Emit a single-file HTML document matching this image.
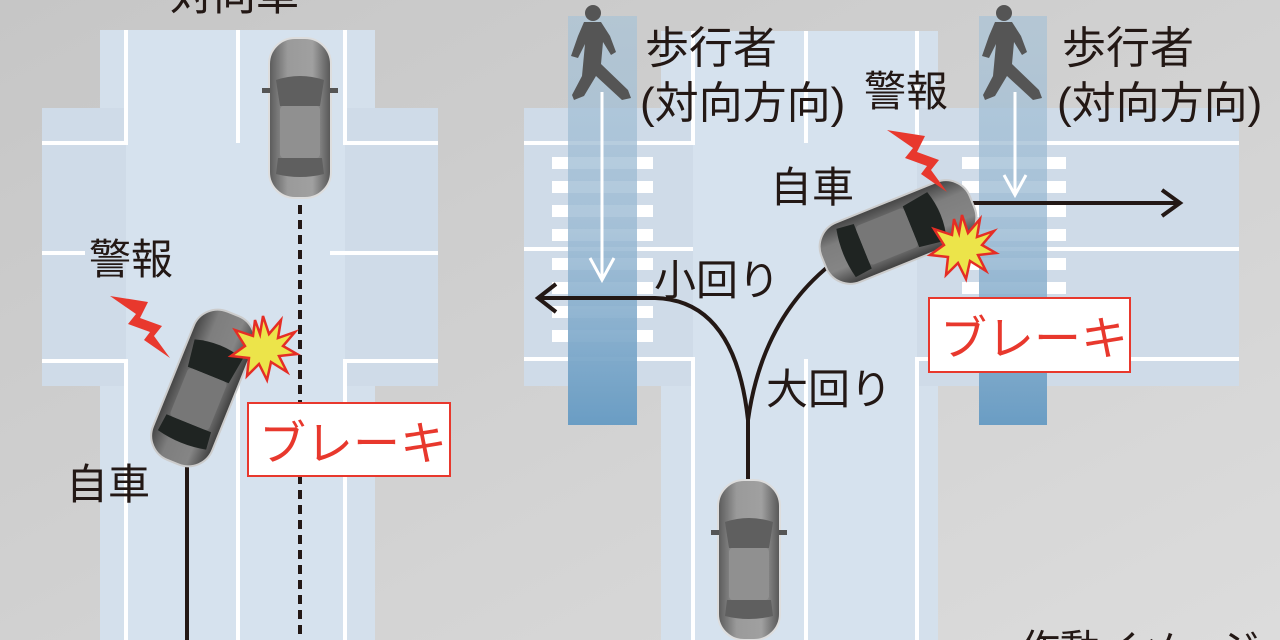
<!DOCTYPE html>
<html><head><meta charset="utf-8"><style>
html,body{margin:0;padding:0;width:1280px;height:640px;overflow:hidden;background:#c9c9c9}
svg{display:block}
text{font-family:"Liberation Sans","Noto Sans CJK JP",sans-serif;fill:#231815}
</style></head><body>
<svg width="1280" height="640" viewBox="0 0 1280 640" xmlns="http://www.w3.org/2000/svg" style="overflow:hidden">
<defs>
<linearGradient id="bg" x1="0" y1="0" x2="1" y2="1"><stop offset="0" stop-color="#c6c6c6"/><stop offset="1" stop-color="#dcdcdc"/></linearGradient>
<linearGradient id="strip" x1="0" y1="0" x2="0" y2="1"><stop offset="0" stop-color="#a9c3d6" stop-opacity="0.7"/><stop offset="0.5" stop-color="#9bbad3" stop-opacity="0.8"/><stop offset="1" stop-color="#6a9dc4"/></linearGradient>
<linearGradient id="carbody" x1="0" y1="0" x2="1" y2="0"><stop offset="0" stop-color="#5a5a5a"/><stop offset="0.3" stop-color="#9a9a9a"/><stop offset="0.7" stop-color="#a0a0a0"/><stop offset="1" stop-color="#555"/></linearGradient>
<linearGradient id="carbody2" x1="0" y1="0" x2="1" y2="0"><stop offset="0" stop-color="#444"/><stop offset="0.3" stop-color="#7e7e7e"/><stop offset="0.7" stop-color="#858585"/><stop offset="1" stop-color="#3e3e3e"/></linearGradient>
<g id="car">
<rect x="-31" y="-80" width="62" height="160" rx="26" fill="url(#carbody)" stroke="#ddd" stroke-width="2"/>
<path d="M-24,-38 Q0,-46 24,-38 L20,-12 L-20,-12 Z" fill="#5f5f5f"/>
<path d="M-22,40 L22,40 L24,56 Q0,62 -24,56 Z" fill="#5f5f5f"/>
<rect x="-20" y="-12" width="40" height="52" rx="4" fill="#909090"/>
<rect x="-38" y="-30" width="8" height="5" fill="#555"/><rect x="30" y="-30" width="8" height="5" fill="#555"/>
</g>
<g id="car2">
<rect x="-32" y="-80" width="64" height="160" rx="26" fill="url(#carbody2)" stroke="#ccc" stroke-width="2"/>
<path d="M-26,-42 Q0,-50 26,-42 L22,-14 L-22,-14 Z" fill="#1f2422"/>
<path d="M-24,38 L24,38 L26,56 Q0,62 -26,56 Z" fill="#1f2422"/>
<rect x="-21" y="-14" width="42" height="52" rx="4" fill="#777"/>
</g>
<polygon id="bolt" points="0,0 38,6 30,22 52,30 44,40 60,62 34,44 40,36 18,28 26,18" fill="#e8382d"/>
<polygon id="star" points="0,-32 6,-14 18,-28 15,-10 32,-16 20,-2 34,6 16,8 24,24 8,14 4,32 -4,16 -16,28 -14,10 -32,8 -18,-2 -28,-18 -10,-12 -8,-28 -3,-14" fill="#ece44a" stroke="#e52d25" stroke-width="2.5"/>
<g id="ped"><circle cx="593" cy="13" r="8" fill="#555"/>
<path d="M584,22 L601,22 L610,36 L616,52 L611,55 L603,42 L601,64 L628,90 L631,98 L622,100 L596,76 L584,96 L574,100 L572,95 L582,76 L585,44 L578,58 L571,56 L578,36 Z" fill="#555"/></g>
</defs>
<rect width="1280" height="640" fill="url(#bg)"/>

<!-- LEFT intersection -->
<rect x="100" y="30" width="275" height="610" fill="#d4e0ec"/>
<rect x="42" y="108" width="396" height="278" fill="#cfdbe8"/>
<rect x="126" y="30" width="219" height="610" fill="#d6e2ee"/>
<g stroke="#fff" stroke-width="4" fill="none">
<path d="M126,30 V143 H42"/><path d="M345,30 V143 H438"/>
<path d="M126,640 V361 H42"/><path d="M345,640 V361 H438"/>
<path d="M238,30 V143"/><path d="M238,361 V640"/>
<path d="M42,253 H85"/><path d="M330,253 H438"/>
</g>
<line x1="300" y1="205" x2="300" y2="640" stroke="#231815" stroke-width="4" stroke-dasharray="9,6"/>
<line x1="187" y1="465" x2="187" y2="640" stroke="#231815" stroke-width="4"/>
<use href="#car" transform="translate(300,118)"/>
<use href="#car2" transform="translate(203,388) rotate(22)"/>
<use href="#star" transform="translate(263,348)"/>
<use href="#bolt" transform="translate(110,296)"/>
<text x="170" y="10" font-size="43">対向車</text>
<text x="89" y="274" font-size="42">警報</text>
<text x="66" y="499" font-size="42">自車</text>
<rect x="248" y="403" width="202" height="73" fill="#fff" stroke="#e8382d" stroke-width="2"/>
<text x="259" y="460" font-size="47" style="fill:#e8382d">ブレーキ</text>

<!-- RIGHT intersection -->
<rect x="661" y="31" width="277" height="609" fill="#d4e0ec"/>
<rect x="524" y="108" width="715" height="278" fill="#cfdbe8"/>
<rect x="693" y="31" width="224" height="609" fill="#d6e2ee"/>
<g stroke="#fff" stroke-width="4" fill="none">
<path d="M693,31 V143 H524"/><path d="M917,31 V143 H1239"/>
<path d="M693,640 V359 H524"/><path d="M917,640 V359 H1239"/>
<path d="M806,31 V143"/><path d="M806,359 V640"/>
<path d="M524,249 H693"/><path d="M917,249 H1239"/>
</g>
<g fill="#fff">
<rect x="552" y="157" width="101" height="12"/><rect x="552" y="181" width="101" height="12"/><rect x="552" y="205" width="101" height="12"/><rect x="552" y="229" width="101" height="12"/><rect x="552" y="258" width="101" height="12"/><rect x="552" y="282" width="101" height="12"/><rect x="552" y="306" width="101" height="12"/><rect x="552" y="330" width="101" height="12"/>
<rect x="962" y="157" width="104" height="12"/><rect x="962" y="181" width="104" height="12"/><rect x="962" y="205" width="104" height="12"/><rect x="962" y="229" width="104" height="12"/><rect x="962" y="258" width="104" height="12"/><rect x="962" y="282" width="104" height="12"/><rect x="962" y="306" width="104" height="12"/><rect x="962" y="330" width="104" height="12"/>
</g>
<rect x="568" y="16" width="69" height="409" fill="url(#strip)"/>
<rect x="979" y="16" width="68" height="409" fill="url(#strip)"/>
<use href="#ped"/>
<use href="#ped" transform="translate(411,0)"/>
<g stroke="#fff" stroke-width="3" fill="none">
<path d="M602,92 V278 M590,258 L602,280 L614,258"/>
<path d="M1015,92 V193 M1004,175 L1015,195 L1026,175"/>
</g>
<g stroke="#231815" stroke-width="4" fill="none">
<path d="M748,482 V420 Q735,300 655,298 H540"/>
<path d="M556,284 L538,298 L556,312"/>
<path d="M748,420 Q762,320 830,265"/>
<path d="M972,203 H1180 M1162,190 L1180,203 L1162,216"/>
</g>
<use href="#car" transform="translate(749,560)"/>
<use href="#car2" transform="translate(898,232) rotate(68)"/>
<use href="#star" transform="translate(962,247)"/>
<use href="#bolt" transform="translate(887,130)"/>
<text x="645" y="63" font-size="44">歩行者</text>
<text x="640" y="118" font-size="44">(対向方向)</text>
<text x="864" y="106" font-size="42">警報</text>
<text x="1062" y="63" font-size="44">歩行者</text>
<text x="1057" y="118" font-size="44">(対向方向)</text>
<text x="770" y="202" font-size="42">自車</text>
<text x="654" y="295" font-size="42">小回り</text>
<text x="766" y="404" font-size="42">大回り</text>
<rect x="929" y="298" width="201" height="74" fill="#fff" stroke="#e8382d" stroke-width="2"/>
<text x="940" y="355" font-size="47" style="fill:#e8382d">ブレーキ</text>
<text x="1020" y="663" font-size="40">作動イメージ</text>
</svg>
</body></html>
